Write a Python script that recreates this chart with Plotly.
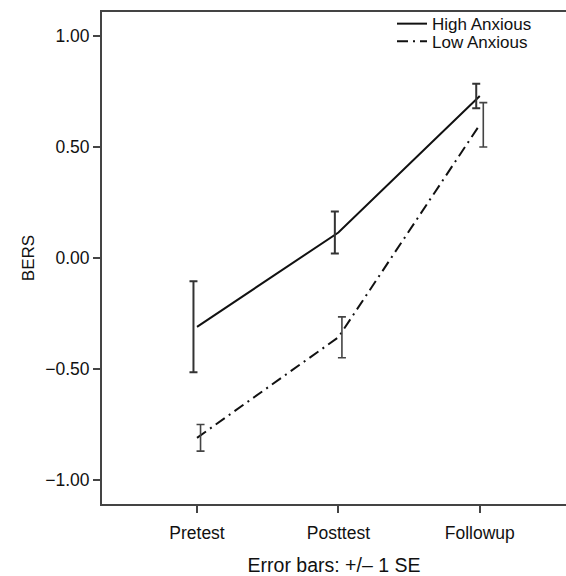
import plotly.graph_objects as go

categories = ["Pretest", "Posttest", "Followup"]
high_mean = [-0.31, 0.115, 0.73]
high_se = [0.205, 0.095, 0.055]
low_mean = [-0.81, -0.357, 0.60]
low_se = [0.06, 0.092, 0.10]
y_ticks = [-1.0, -0.5, 0.0, 0.5, 1.0]
y_tick_labels = ["\u22121.00", "\u22120.50", "0.00", "0.50", "1.00"]

xpos = list(range(len(categories)))
bar_shift = 0.025  # small horizontal dodge of the error bars, as in the original
font_family = "Liberation Sans, Arial, sans-serif"

fig = go.Figure()
fig.add_trace(go.Scatter(
    x=xpos, y=high_mean, mode="lines", name="High Anxious",
    line=dict(color="#111111", width=2), legend="legend",
))
fig.add_trace(go.Scatter(
    x=xpos, y=low_mean, mode="lines", name="Low Anxious",
    line=dict(color="#111111", width=2, dash="11px,5px,2px,5px"), legend="legend2",
))
fig.add_trace(go.Scatter(
    x=[v - bar_shift for v in xpos], y=high_mean, mode="markers", showlegend=False,
    marker=dict(size=0.1, color="rgba(0,0,0,0)"), hoverinfo="skip",
    error_y=dict(type="data", array=high_se, visible=True, color="#333333", thickness=2, width=4),
))
fig.add_trace(go.Scatter(
    x=[v + bar_shift for v in xpos], y=low_mean, mode="markers", showlegend=False,
    marker=dict(size=0.1, color="rgba(0,0,0,0)"), hoverinfo="skip",
    error_y=dict(type="data", array=low_se, visible=True, color="#444444", thickness=1.6, width=4),
))

leg_common = dict(x=0.625, xanchor="left", yanchor="top", bgcolor="rgba(0,0,0,0)",
                  font=dict(size=17, color="#111111", family=font_family), itemwidth=30)

fig.update_layout(
    width=566, height=576,
    margin=dict(l=102, r=0, t=12, b=72),
    paper_bgcolor="white", plot_bgcolor="white",
    font=dict(family=font_family, size=17, color="#111111"),
    showlegend=True,
    legend=dict(y=1.012, **leg_common),
    legend2=dict(y=0.976, **leg_common),
    xaxis=dict(
        range=[-0.672, 2.61], tickmode="array", tickvals=xpos, ticktext=categories,
        showgrid=False, zeroline=False, showline=True, linecolor="#444444", linewidth=2,
        mirror=True, ticks="outside", ticklen=7, tickwidth=2, tickcolor="#444444",
        tickfont=dict(size=17.5), ticklabelstandoff=5,
        title=dict(text="Error bars: +/\u2013 1 SE", standoff=16, font=dict(size=19.5)),
    ),
    yaxis=dict(
        range=[-1.108, 1.108], tickmode="array", tickvals=y_ticks, ticktext=y_tick_labels,
        showgrid=False, zeroline=False, showline=True, linecolor="#444444", linewidth=2,
        ticks="outside", ticklen=7, tickwidth=2, tickcolor="#444444",
        tickfont=dict(size=17.5),
        title=dict(text="BERS", standoff=6, font=dict(size=17)),
    ),
)

fig.write_html(
    "out.html",
    config={"displayModeBar": False},
    post_script="document.body.style.margin='0';document.body.style.overflow='hidden';",
)
